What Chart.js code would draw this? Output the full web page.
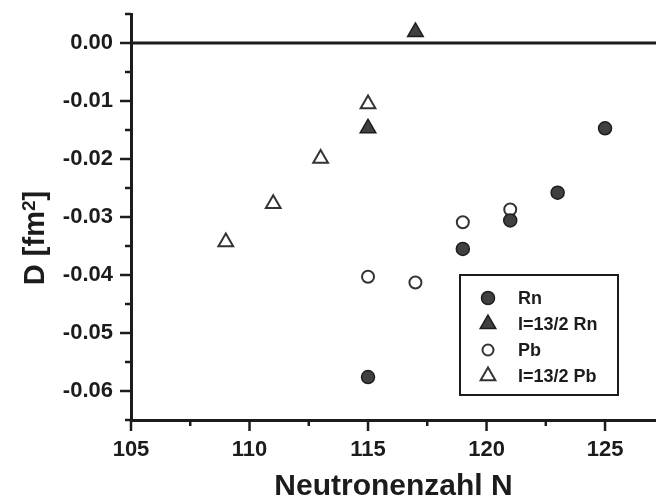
<!DOCTYPE html>
<html>
<head>
<meta charset="utf-8">
<script src="https://cdn.jsdelivr.net/npm/chart.js@4.4.1/dist/chart.umd.min.js"></script>
<style>
  html, body { margin: 0; padding: 0; background: #fff; }
  #wrap { width: 656px; height: 501px; }
</style>
</head>
<body>
<div id="wrap"><canvas id="myChart" width="656" height="501"></canvas></div>
<script>
// Neutron number N and D values for each series
const rnN = [115, 119, 121, 123, 125];
const rnD = [-0.0576, -0.0355, -0.0306, -0.0258, -0.0147];

const rnIsoN = [115, 117];
const rnIsoD = [-0.0147, 0.0019];

const pbN = [115, 117, 119, 121];
const pbD = [-0.0403, -0.0413, -0.0309, -0.0287];

const pbIsoN = [109, 111, 113, 115];
const pbIsoD = [-0.0343, -0.0277, -0.0199, -0.0105];

// Labelled ticks; a short tick sits halfway between each pair
const xMajor = [105, 110, 115, 120, 125];
const yMajor = [0.00, -0.01, -0.02, -0.03, -0.04, -0.05, -0.06];

const FONT = "'Liberation Sans', Arial, sans-serif";
const INK = "#1c1c1c";

function pts(xs, ys) {
  return xs.map((x, i) => ({ x: x, y: ys[i] }));
}

// major + minor tick values from the labelled ones
function withMinors(major, step, lo, hi) {
  const out = [];
  major.forEach(v => { out.push(v); });
  major.forEach(v => {
    [v - step / 2, v + step / 2].forEach(m => {
      if (m >= lo - 1e-9 && m <= hi + 1e-9 && !out.some(o => Math.abs(o - m) < 1e-9)) out.push(m);
    });
  });
  return out.sort((a, b) => a - b);
}

function isMajor(list, v) {
  return list.some(m => Math.abs(m - v) < 1e-9);
}

// tick marks, zero line, y title and the boxed legend
const decorations = {
  id: "decorations",
  afterDraw(chart) {
    const c = chart.ctx;
    const xs = chart.scales.x, ys = chart.scales.y;
    const area = chart.chartArea;
    c.save();
    c.strokeStyle = INK;
    c.lineWidth = 3;

    // line at D = 0
    const y0 = ys.getPixelForValue(0);
    c.beginPath();
    c.moveTo(area.left, y0);
    c.lineTo(chart.width, y0);
    c.stroke();

    // x ticks
    c.lineWidth = 2.5;
    xs.ticks.forEach(t => {
      const px = xs.getPixelForValue(t.value);
      const len = isMajor(xMajor, t.value) ? 11 : 6;
      c.beginPath();
      c.moveTo(px, area.bottom);
      c.lineTo(px, area.bottom + len);
      c.stroke();
    });
    // y ticks
    ys.ticks.forEach(t => {
      const py = ys.getPixelForValue(t.value);
      const len = isMajor(yMajor, t.value) ? 11 : 6;
      c.beginPath();
      c.moveTo(area.left, py);
      c.lineTo(area.left - len, py);
      c.stroke();
    });

    // y title with superscript
    c.fillStyle = INK;
    c.translate(44, 238);
    c.rotate(-Math.PI / 2);
    c.textBaseline = "alphabetic";
    c.textAlign = "left";
    const big = "bold 29px " + FONT, small = "bold 19px " + FONT;
    c.font = big;
    const w1 = c.measureText("D [fm").width;
    const w3 = c.measureText("]").width;
    c.font = small;
    const w2 = c.measureText("2").width;
    let x = -(w1 + w2 + w3) / 2;
    c.font = big;
    c.fillText("D [fm", x, 0);
    x += w1;
    c.font = small;
    c.fillText("2", x, -9);
    x += w2;
    c.font = big;
    c.fillText("]", x, 0);
    c.setTransform(1, 0, 0, 1, 0, 0);

    // legend
    const bx = 460, by = 275, bw = 158, bh = 120;
    c.lineWidth = 2;
    c.strokeStyle = INK;
    c.strokeRect(bx, by, bw, bh);
    const rows = [298, 324, 350, 376];
    c.font = "bold 18px " + FONT;
    c.textBaseline = "middle";
    chart.data.datasets.forEach((ds, i) => {
      const cx = 488, cy = rows[i];
      drawMark(c, ds.pointStyle, cx, cy, ds.legendRadius, ds.backgroundColor, ds.borderColor, ds.borderWidth);
      c.fillStyle = INK;
      c.fillText(ds.label, 518, cy + 1);
    });
    c.restore();
  }
};

function drawMark(c, style, cx, cy, r, fill, stroke, lw) {
  c.beginPath();
  if (style === "triangle") {
    c.moveTo(cx, cy - r);
    c.lineTo(cx + r * Math.sqrt(3) / 2, cy + r / 2);
    c.lineTo(cx - r * Math.sqrt(3) / 2, cy + r / 2);
    c.closePath();
  } else {
    c.arc(cx, cy, r, 0, Math.PI * 2);
  }
  c.fillStyle = fill;
  c.fill();
  c.lineWidth = lw;
  c.strokeStyle = stroke;
  c.stroke();
}

const ctx = document.getElementById("myChart").getContext("2d");

new Chart(ctx, {
  type: "scatter",
  data: {
    datasets: [
      {
        label: "Rn",
        data: pts(rnN, rnD),
        pointStyle: "circle",
        pointRadius: 6.5,
        legendRadius: 6.5,
        backgroundColor: "#404040",
        borderColor: "#1e1e1e",
        borderWidth: 1.5
      },
      {
        label: "I=13/2 Rn",
        data: pts(rnIsoN, rnIsoD),
        pointStyle: "triangle",
        pointRadius: 9,
        legendRadius: 9,
        backgroundColor: "#404040",
        borderColor: "#1e1e1e",
        borderWidth: 1.5
      },
      {
        label: "Pb",
        data: pts(pbN, pbD),
        pointStyle: "circle",
        pointRadius: 6,
        legendRadius: 5.5,
        backgroundColor: "rgba(255,255,255,0)",
        borderColor: "#333",
        borderWidth: 2
      },
      {
        label: "I=13/2 Pb",
        data: pts(pbIsoN, pbIsoD),
        pointStyle: "triangle",
        pointRadius: 8.5,
        legendRadius: 8.5,
        backgroundColor: "rgba(255,255,255,0)",
        borderColor: "#333",
        borderWidth: 2
      }
    ]
  },
  options: {
    responsive: false,
    animation: false,
    layout: { autoPadding: false, padding: { top: 14, right: 0, bottom: 0, left: 0 } },
    plugins: {
      legend: { display: false },
      tooltip: { enabled: false }
    },
    scales: {
      x: {
        type: "linear",
        min: 105,
        max: 127.15,
        afterBuildTicks: s => {
          s.ticks = withMinors(xMajor, 5, 105, 127.15).map(v => ({ value: v }));
        },
        afterFit: s => {
          s.height = 81;
          s.paddingLeft = 0;
          s.paddingRight = 0;
        },
        ticks: {
          autoSkip: false,
          maxRotation: 0,
          padding: 6,
          color: INK,
          font: { family: FONT, size: 22, weight: "bold" },
          callback: v => isMajor(xMajor, v) ? String(v) : ""
        },
        grid: { display: false, drawTicks: true, tickLength: 11 },
        border: { display: true, width: 3, color: INK },
        title: {
          display: true,
          text: "Neutronenzahl N",
          color: INK,
          padding: 0,
          font: { family: FONT, size: 30, weight: "bold", lineHeight: 0.95 }
        }
      },
      y: {
        type: "linear",
        min: -0.065,
        max: 0.005,
        afterBuildTicks: s => {
          s.ticks = withMinors(yMajor, 0.01, -0.065, 0.005).map(v => ({ value: v }));
        },
        afterFit: s => {
          s.width = 131;
          s.paddingTop = 0;
          s.paddingBottom = 0;
        },
        ticks: {
          autoSkip: false,
          padding: 7,
          color: INK,
          font: { family: FONT, size: 22, weight: "bold" },
          callback: v => isMajor(yMajor, v) ? (Math.abs(v) < 1e-9 ? "0.00" : v.toFixed(2)) : ""
        },
        grid: { display: false, drawTicks: true, tickLength: 11 },
        border: { display: true, width: 3, color: INK }
      }
    }
  },
  plugins: [decorations]
});
</script>
</body>
</html>
